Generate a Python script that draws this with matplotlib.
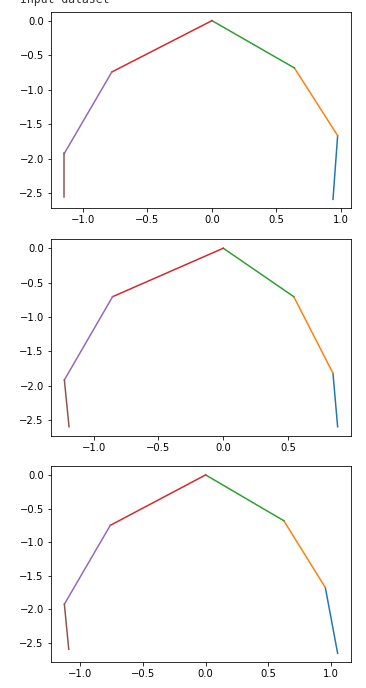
import matplotlib
matplotlib.use("Agg")
import matplotlib.pyplot as plt

# Joint coordinates (chain of 7 points -> 6 segments) per subplot
x1 = [0.938, 0.974, 0.639, 0.0, -0.776, -1.144, -1.144]
y1 = [-2.587, -1.665, -0.685, 0.0, -0.743, -1.921, -2.548]

x2 = [0.882, 0.846, 0.544, 0.0, -0.854, -1.226, -1.190]
y2 = [-2.597, -1.819, -0.705, 0.0, -0.705, -1.916, -2.597]

x3 = [1.052, 0.954, 0.623, 0.0, -0.760, -1.126, -1.091]
y3 = [-2.654, -1.675, -0.681, 0.0, -0.750, -1.923, -2.594]

title = "Input dataset"

W, H = 366, 688
fig = plt.figure(figsize=(W / 72, H / 72), dpi=72)

boxes = [(50.7, 11.7, 351.3, 208.3), (50.7, 239.3, 351.3, 435.7), (50.7, 466.0, 351.3, 662.3)]
datasets = [(x1, y1), (x2, y2), (x3, y3)]

for (l, t, r, b), (xs, ys) in zip(boxes, datasets):
    ax = fig.add_axes([l / W, 1 - b / H, (r - l) / W, (b - t) / H])
    for i in range(len(xs) - 1):
        ax.plot(xs[i:i + 2], ys[i:i + 2], linewidth=1.5)
    ax.set_yticks([0.0, -0.5, -1.0, -1.5, -2.0, -2.5])

fig.text(20 / W, 1 - 3.5 / H, title, family="DejaVu Sans Mono", fontsize=11.5,
         va="baseline", ha="left", color="#333333")

fig.savefig("out.png", dpi=72)
